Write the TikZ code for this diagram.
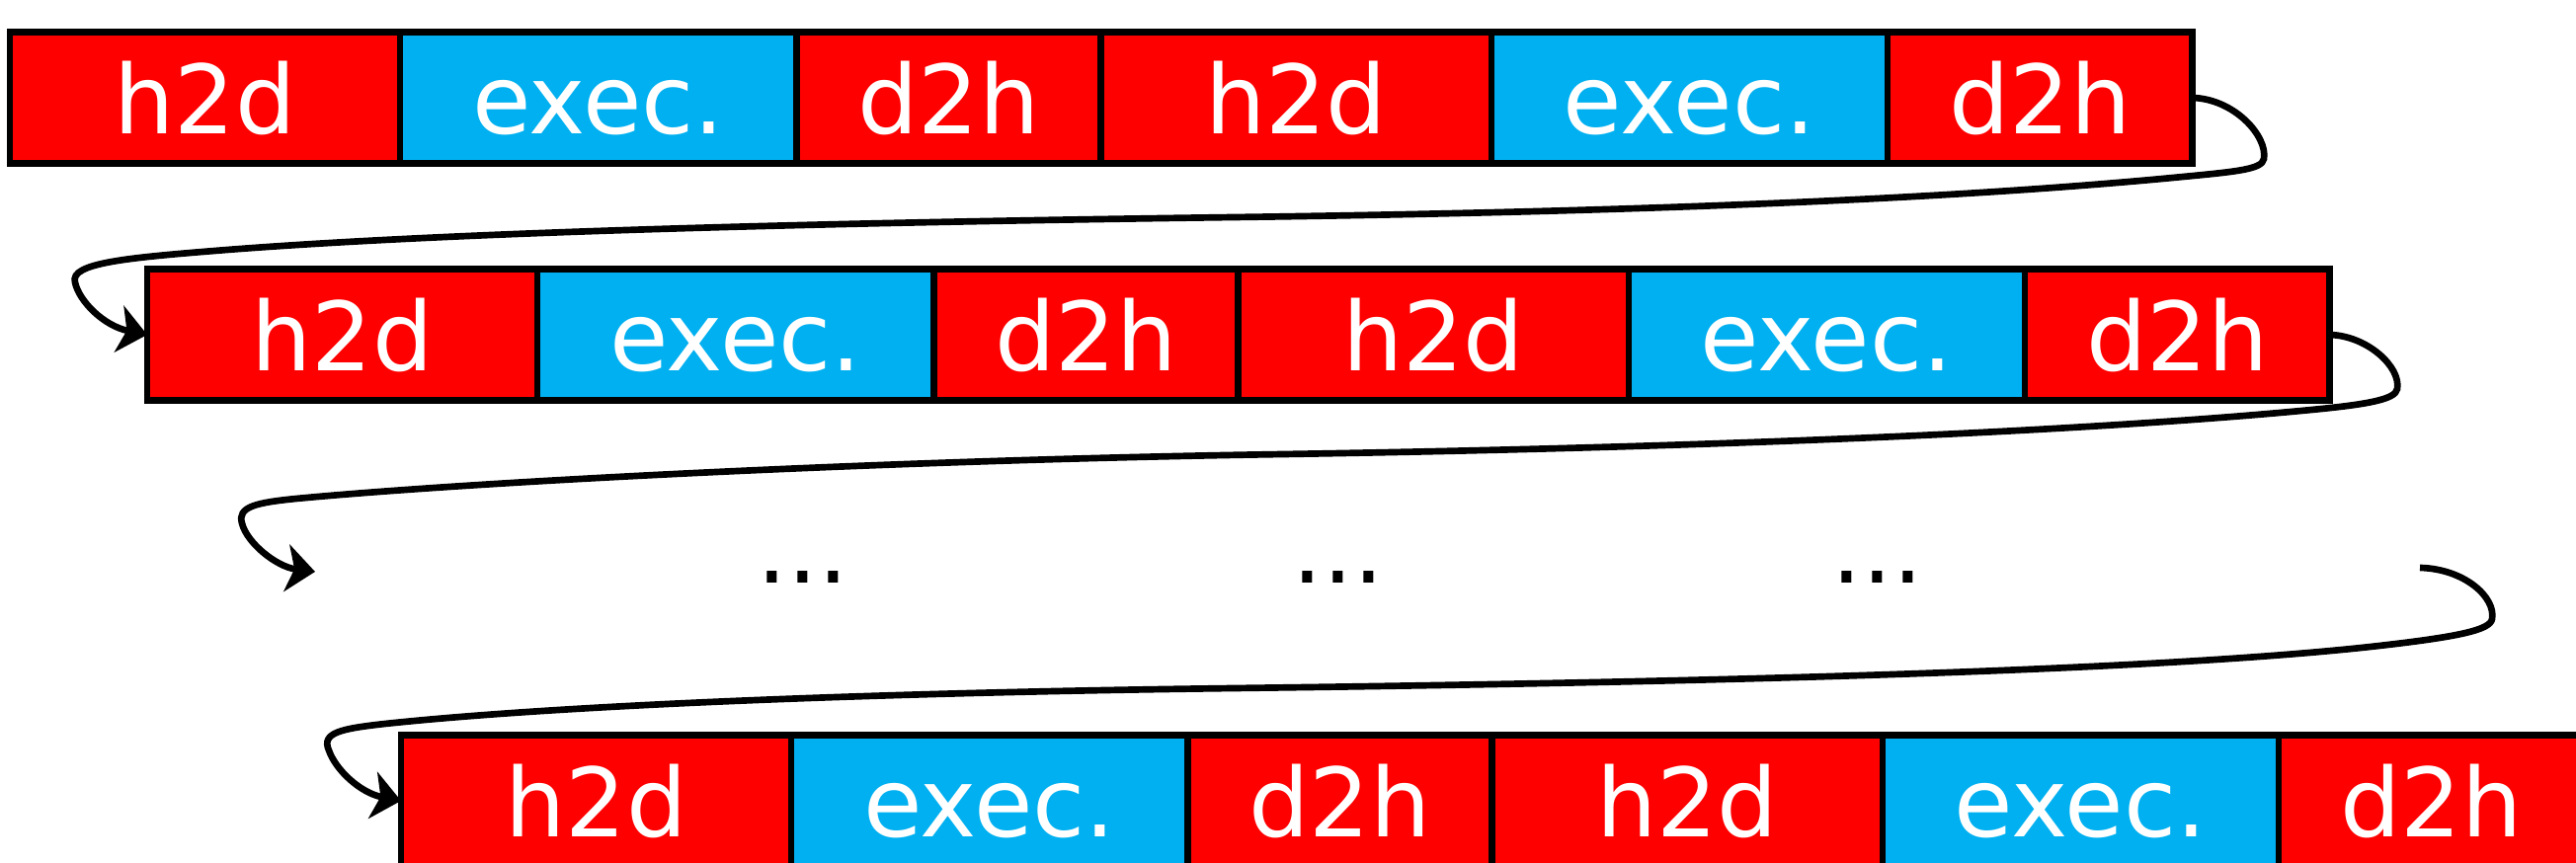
\documentclass[tikz,border=0pt]{standalone}
\usepackage{fontspec}
\setmainfont{DejaVu Sans}
\usetikzlibrary{arrows.meta}
\definecolor{cyanblue}{RGB}{0,176,240}
\definecolor{pptred}{RGB}{255,0,0}
\begin{document}
\begin{tikzpicture}[x=0.01cm,y=-0.01cm,
  cellbase/.style={draw=black, line width=1.85pt, minimum height=1.33cm,
    inner sep=0pt, outer sep=0pt, anchor=west, text=white,
    font=\fontsize{27.5}{30}\selectfont, text height=0.73cm, text depth=0pt},
  hd/.style={cellbase, fill=pptred, minimum width=3.95cm},
  ex/.style={cellbase, fill=cyanblue, minimum width=4.01cm},
  dh/.style={cellbase, fill=pptred, minimum width=3.08cm},
  dotsnode/.style={anchor=base, inner sep=0pt, font=\fontsize{27.5}{30}\selectfont, text=black},
  conn/.style={line width=1.9pt, black, -{Stealth[length=0.29cm, width=0.48cm, inset=0.08cm]}}
]
\useasboundingbox (0,0) rectangle (2608,874);
\clip (0,0) rectangle (2608,874);

% row 1
\node[hd] (r1a) at (10,99) {h2d};
\node[ex] (r1b) at (r1a.east) {exec.};
\node[dh] (r1c) at (r1b.east) {d2h};
\node[hd] (r1d) at (r1c.east) {h2d};
\node[ex] (r1e) at (r1d.east) {exec.};
\node[dh] (r1f) at (r1e.east) {d2h};

% row 2
\node[hd] (r2a) at (149,339) {h2d};
\node[ex] (r2b) at (r2a.east) {exec.};
\node[dh] (r2c) at (r2b.east) {d2h};
\node[hd] (r2d) at (r2c.east) {h2d};
\node[ex] (r2e) at (r2d.east) {exec.};
\node[dh] (r2f) at (r2e.east) {d2h};

% row 3 (dots)
\node[dotsnode] (d1) at (813,591) {...};
\node[dotsnode] (d2) at (1355,591) {...};
\node[dotsnode] (d3) at (1901,591) {...};
\coordinate (c3e) at (319,579);
\coordinate (c3s) at (2450,575);

% row 4
\node[hd] (r4a) at (406,811) {h2d};
\node[ex] (r4b) at (r4a.east) {exec.};
\node[dh] (r4c) at (r4b.east) {d2h};
\node[hd] (r4d) at (r4c.east) {h2d};
\node[ex] (r4e) at (r4d.east) {exec.};
\node[dh] (r4f) at (r4e.east) {d2h};

% connector row 1 -> row 2
\draw[conn] (r1f.east)
  .. controls (2262,100) and (2296,138) .. (2292,161)
  .. controls (2290,172) and (2262,174) .. (2200,180)
  .. controls (2000,199) and (1700,214) .. (1250,220)
  .. controls (800,226) and (450,236) .. (230,253)
  .. controls (130,261) and (70,266) .. (76,286)
  .. controls (80,305) and (105,330) .. (r2a.west);

% connector row 2 -> row 3
\draw[conn] (r2f.east)
  .. controls (2397,340) and (2431,372) .. (2427,394)
  .. controls (2425,405) and (2395,410) .. (2330,416)
  .. controls (2150,433) and (1800,452) .. (1300,460)
  .. controls (900,466) and (480,488) .. (300,505)
  .. controls (260,509) and (240,513) .. (245,530)
  .. controls (250,550) and (280,574) .. (c3e);

% connector row 3 -> row 4
\draw[conn] (c3s)
  .. controls (2495,576) and (2527,605) .. (2523,627)
  .. controls (2521,638) and (2490,645) .. (2400,655)
  .. controls (2200,677) and (1800,690) .. (1250,697)
  .. controls (850,702) and (550,716) .. (390,733)
  .. controls (345,738) and (325,742) .. (333,760)
  .. controls (340,780) and (365,803) .. (r4a.west);
\end{tikzpicture}
\end{document}
